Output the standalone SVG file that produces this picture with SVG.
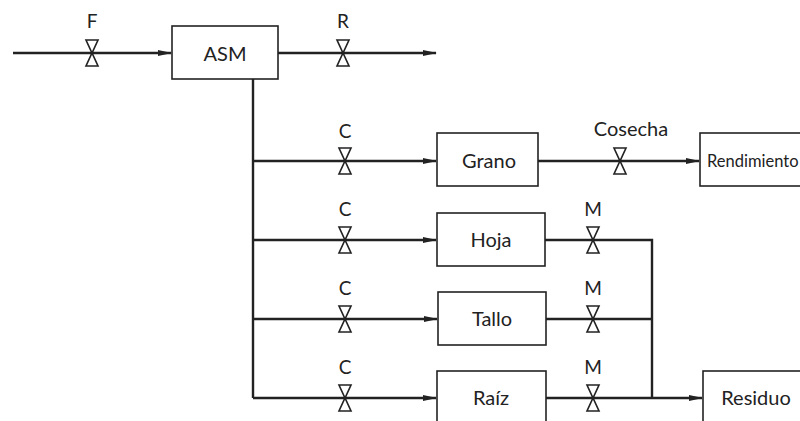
<svg xmlns="http://www.w3.org/2000/svg" width="800" height="421" viewBox="0 0 800 421">
<defs>
<style>
.box{fill:#fff;stroke:#222;stroke-width:1.6}
.ln{fill:none;stroke:#222;stroke-width:2.4}
.t{font-family:Lato,"Open Sans",sans-serif;font-size:20px;fill:#222;text-anchor:middle}
.lb{font-family:Lato,"Open Sans",sans-serif;font-size:19px;fill:#222;text-anchor:middle}
.v{fill:#fff;stroke:#222;stroke-width:1.6;stroke-linejoin:miter}
</style>
<marker id="ah" markerWidth="14" markerHeight="8" refX="13" refY="4" orient="auto" markerUnits="userSpaceOnUse">
<path d="M0,1 L14,4 L0,7 Z" fill="#222"/>
</marker>
<symbol id="valve" overflow="visible">
<path class="v" d="M-6,-13 L6,-13 L0,0 Z M-6,13 L6,13 L0,0 Z"/>
</symbol>
</defs>
<rect width="800" height="421" fill="#fff"/>
<g id="connectors">
<line class="ln" x1="13" y1="53" x2="171" y2="53" marker-end="url(#ah)"/>
<line class="ln" x1="278" y1="53" x2="436" y2="53" marker-end="url(#ah)"/>
<polyline class="ln" points="253,79 253,398"/>
<line class="ln" x1="253" y1="161" x2="436" y2="161" marker-end="url(#ah)"/>
<line class="ln" x1="253" y1="240" x2="436" y2="240" marker-end="url(#ah)"/>
<line class="ln" x1="253" y1="319" x2="437" y2="319" marker-end="url(#ah)"/>
<line class="ln" x1="253" y1="398" x2="436" y2="398" marker-end="url(#ah)"/>
<line class="ln" x1="538" y1="161" x2="699" y2="161" marker-end="url(#ah)"/>
<polyline class="ln" points="545,240 652,240 652,398"/>
<line class="ln" x1="546" y1="319" x2="652" y2="319"/>
<line class="ln" x1="546" y1="398" x2="702" y2="398" marker-end="url(#ah)"/>
<use href="#valve" x="92" y="53"/>
<use href="#valve" x="343" y="53"/>
<use href="#valve" x="345" y="161"/>
<use href="#valve" x="345" y="240"/>
<use href="#valve" x="345" y="319"/>
<use href="#valve" x="345" y="398"/>
<use href="#valve" x="620" y="161"/>
<use href="#valve" x="593" y="240"/>
<use href="#valve" x="593" y="319"/>
<use href="#valve" x="593" y="398"/>
<text class="lb" x="92" y="28">F</text>
<text class="lb" x="343" y="28">R</text>
<text class="lb" x="345" y="138">C</text>
<text class="lb" x="345" y="216">C</text>
<text class="lb" x="345" y="295">C</text>
<text class="lb" x="345" y="374">C</text>
<text class="lb" x="631" y="136" style="font-size:20px">Cosecha</text>
<text class="lb" x="593" y="216">M</text>
<text class="lb" x="593" y="295">M</text>
<text class="lb" x="593" y="374">M</text>
</g>
<g id="asm"><rect class="box" x="172" y="26" width="106" height="53"/><text class="t" x="225" y="61">ASM</text></g>
<g id="grano"><rect class="box" x="437" y="133" width="101" height="53"/><text class="t" x="489" y="168">Grano</text></g>
<g id="rendimiento"><rect class="box" x="700" y="133" width="110" height="53"/><text class="lb" x="707" y="167" style="text-anchor:start;font-size:16.5px">Rendimiento</text></g>
<g id="hoja"><rect class="box" x="437" y="213" width="108" height="53"/><text class="t" x="491" y="247">Hoja</text></g>
<g id="tallo"><rect class="box" x="438" y="292" width="108" height="53"/><text class="t" x="492" y="326">Tallo</text></g>
<g id="raiz"><rect class="box" x="437" y="371" width="109" height="60"/><text class="t" x="491" y="405">Raíz</text></g>
<g id="residuo"><rect class="box" x="703" y="371" width="110" height="60"/><text class="t" x="756" y="405">Residuo</text></g>
</svg>
